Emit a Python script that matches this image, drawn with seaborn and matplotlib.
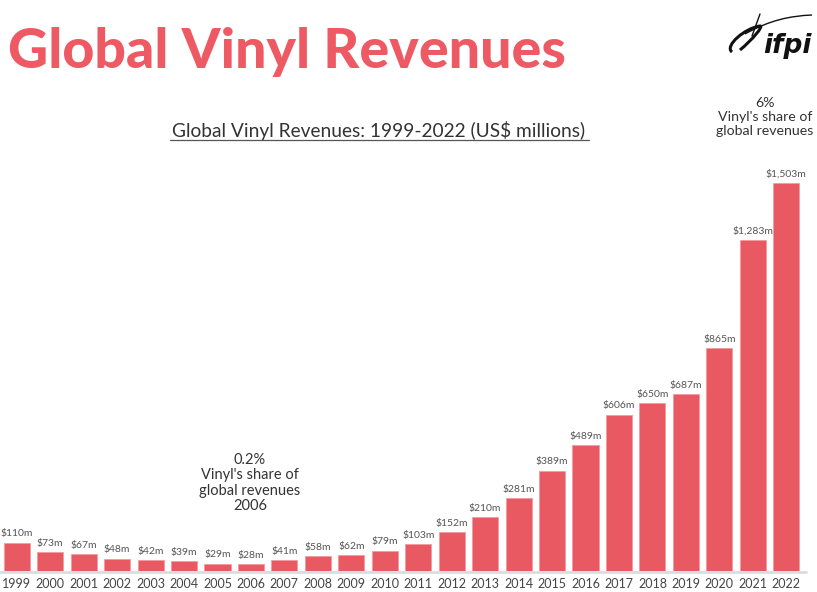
import matplotlib
matplotlib.use("Agg")
import matplotlib.pyplot as plt
import seaborn as sns
import pandas as pd
from matplotlib.path import Path
from matplotlib.patches import PathPatch

years = ["1999", "2000", "2001", "2002", "2003", "2004", "2005", "2006",
         "2007", "2008", "2009", "2010", "2011", "2012", "2013", "2014",
         "2015", "2016", "2017", "2018", "2019", "2020", "2021", "2022"]
revenues = [110, 73, 67, 48, 42, 39, 29, 28, 41, 58, 62, 79, 103, 152,
            210, 281, 389, 489, 606, 650, 687, 865, 1283, 1503]
value_labels = ["$110m", "$73m", "$67m", "$48m", "$42m", "$39m", "$29m", "$28m",
                "$41m", "$58m", "$62m", "$79m", "$103m", "$152m", "$210m",
                "$281m", "$389m", "$489m", "$606m", "$650m", "$687m", "$865m",
                "$1,283m", "$1,503m"]

BAR = "#E95962"
TITLE = "#EE5A63"
TEXT = "#444444"
FONT = ["Lato", "DejaVu Sans"]

sns.set_theme(style="white")
plt.rcParams["font.family"] = FONT

df = pd.DataFrame({"year": years, "revenue": revenues})

W, H = 817, 592
fig = plt.figure(figsize=(W / 100, H / 100), dpi=100)
ax = fig.add_axes([0.0, 1 - 571 / H, 803 / W, 413 / H])

sns.barplot(data=df, x="year", y="revenue", color=BAR, width=0.78,
            edgecolor="#F59AA0", linewidth=0.6, saturation=1, ax=ax)

ax.set_xlim(-0.5, 23.5)
ax.set_ylim(0, 1600)
ax.set_xlabel("")
ax.set_ylabel("")
ax.set_yticks([])
for s in ax.spines.values():
    s.set_visible(False)
ax.tick_params(axis="x", length=0, pad=5, labelsize=9, labelcolor=TEXT)

for i, (v, lab) in enumerate(zip(revenues, value_labels)):
    ax.annotate(lab, (i, v), xytext=(0, 3), textcoords="offset points",
                ha="center", va="bottom", fontsize=7.5, color="#555555")

# baseline
fig.add_artist(plt.Line2D([0, 806 / W], [1 - 572 / H] * 2, color="#dddddd",
                          lw=2, transform=fig.transFigure))

# heading
fig.text(8 / W, 1 - 52 / H, "Global Vinyl Revenues", fontsize=40,
         fontweight="black", color=TITLE, ha="left", va="center")

# subtitle, underlined
fig.text(379 / W, 1 - 130 / H, "Global Vinyl Revenues: 1999-2022 (US$ millions)",
         fontsize=13.8, color="#333333", ha="center", va="center")
fig.add_artist(plt.Line2D([170 / W, 589 / W], [1 - 140 / H] * 2, color="#555555",
                          lw=0.9, transform=fig.transFigure))

# share notes
fig.text(765 / W, 1 - 117 / H, "6%\nVinyl's share of\nglobal revenues",
         fontsize=10.2, color="#333333", ha="center", va="center", linespacing=1.2)
fig.text(250 / W, 1 - 483 / H, "0.2%\nVinyl's share of\nglobal revenues\n2006",
         fontsize=10.5, color="#333333", ha="center", va="center", linespacing=1.15)

# logo
fig.text(787 / W, 1 - 46 / H, "ifpi", fontsize=19, style="italic",
         fontweight="bold", color="#111111", ha="center", va="center",
         family=["DejaVu Sans"])
loop = [(732, 52), (724, 46), (745, 28), (760, 26),
        (764, 26), (752, 40), (740, 50)]
loop_codes = [Path.MOVETO, Path.CURVE4, Path.CURVE4, Path.CURVE4,
              Path.CURVE4, Path.CURVE4, Path.CURVE4]
fig.add_artist(PathPatch(Path([(x / W, 1 - y / H) for x, y in loop], loop_codes),
                         fill=False, lw=2.2, edgecolor="#111111",
                         transform=fig.transFigure))
tail = [(745, 34), (770, 20), (790, 16), (812, 15)]
tail_codes = [Path.MOVETO, Path.CURVE4, Path.CURVE4, Path.CURVE4]
fig.add_artist(PathPatch(Path([(x / W, 1 - y / H) for x, y in tail], tail_codes),
                         fill=False, lw=1.0, edgecolor="#111111",
                         transform=fig.transFigure))
fig.add_artist(plt.Line2D([760 / W, 752 / W], [1 - 14 / H, 1 - 36 / H],
                          color="#111111", lw=1.0, transform=fig.transFigure))

fig.savefig("out.png", dpi=100, facecolor="white")
